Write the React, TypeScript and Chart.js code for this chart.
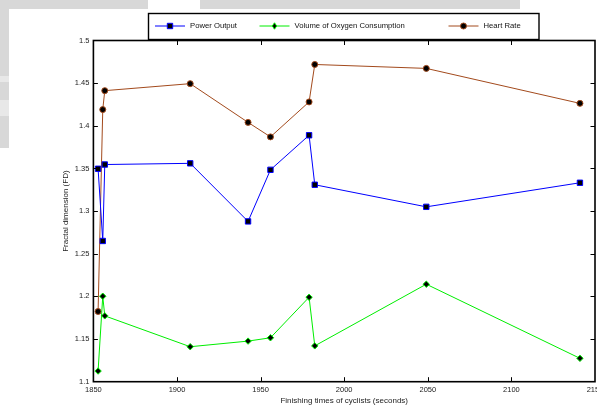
import React, { useEffect, useRef } from "react";
import { Chart, registerables } from "chart.js";

Chart.register(...registerables);

const finishTimes = [1852.8, 1855.6, 1856.8, 1907.9, 1942.5, 1955.9, 1979, 1982.4, 2049.1, 2141];
const powerOutput = [1.3496, 1.265, 1.3546, 1.356, 1.2879, 1.3484, 1.3889, 1.3309, 1.305, 1.3332];
const oxygenConsumption = [1.1125, 1.2002, 1.1772, 1.141, 1.1476, 1.1515, 1.199, 1.142, 1.2143, 1.1274];
const heartRate = [1.1823, 1.419, 1.4412, 1.4494, 1.404, 1.387, 1.428, 1.4719, 1.4673, 1.4263];

const seriesLabels = ["Power Output", "Volume of Oxygen Consumption", "Heart Rate"];
const seriesColors = ["#0000ff", "#00ee00", "#a34a1c"];
const xTickMin = 1850;
const xTickMax = 2150;
const xStep = 50;
const yTickMin = 1.1;
const yTickMax = 1.5;
const yStep = 0.05;

const FONT = "'Liberation Sans', Arial, sans-serif";

function drawMarker(ctx: CanvasRenderingContext2D, style: string, x: number, y: number, color: string) {
  ctx.save();
  ctx.fillStyle = "#000";
  ctx.strokeStyle = color;
  ctx.lineWidth = 1;
  ctx.beginPath();
  if (style === "rect") {
    ctx.rect(x - 2.7, y - 2.7, 5.4, 5.4);
  } else if (style === "rectRot") {
    ctx.moveTo(x, y - 3.2);
    ctx.lineTo(x + 2.2, y);
    ctx.lineTo(x, y + 3.2);
    ctx.lineTo(x - 2.2, y);
    ctx.closePath();
  } else {
    ctx.arc(x, y, 3, 0, Math.PI * 2);
  }
  ctx.fill();
  ctx.stroke();
  ctx.restore();
}

const framePlugin = {
  id: "matlabFrame",
  beforeDraw(chart: any) {
    const ctx = chart.ctx as CanvasRenderingContext2D;
    ctx.save();
    ctx.fillStyle = "#ffffff";
    ctx.fillRect(0, 0, chart.width, chart.height);
    ctx.fillStyle = "#d8d8d8";
    ctx.fillRect(0, 0, 148, 9);
    ctx.fillRect(200, 0, 320, 9);
    ctx.fillRect(0, 0, 9, 148);
    ctx.fillStyle = "#e8e8e8";
    ctx.fillRect(0, 76, 9, 6);
    ctx.fillRect(0, 100, 9, 16);
    ctx.restore();
  },
  afterDraw(chart: any) {
    const ctx = chart.ctx as CanvasRenderingContext2D;
    const { left, right, top, bottom } = chart.chartArea;
    const xs = chart.scales.x;
    const ys = chart.scales.y;
    ctx.save();
    ctx.strokeStyle = "#000";
    ctx.lineWidth = 1;
    const tl = 4.5;
    ctx.beginPath();
    xs.ticks.forEach((t: any) => {
      const px = Math.round(xs.getPixelForValue(t.value)) + 0.5;
      if (px <= left + 1 || px >= right - 1) return;
      ctx.moveTo(px, bottom);
      ctx.lineTo(px, bottom - tl);
      ctx.moveTo(px, top);
      ctx.lineTo(px, top + tl);
    });
    ys.ticks.forEach((t: any) => {
      const py = Math.round(ys.getPixelForValue(t.value)) + 0.5;
      if (py <= top + 1 || py >= bottom - 1) return;
      ctx.moveTo(left, py);
      ctx.lineTo(left + tl, py);
      ctx.moveTo(right, py);
      ctx.lineTo(right - tl, py);
    });
    ctx.stroke();
    ctx.lineWidth = 1.6;
    ctx.strokeRect(left, top, right - left, bottom - top);

    // legend box
    const lx = 148.5, ly = 13.5, lw = 390.5, lh = 26;
    ctx.fillStyle = "#fff";
    ctx.fillRect(lx, ly, lw, lh);
    ctx.lineWidth = 1.4;
    ctx.strokeRect(lx, ly, lw, lh);
    const cy = 26;
    const starts = [155, 259.5, 448.5];
    const styles = ["rect", "rectRot", "circle"];
    ctx.font = `7.7px ${FONT}`;
    ctx.textBaseline = "middle";
    ctx.textAlign = "left";
    chart.data.datasets.forEach((ds: any, i: number) => {
      const sx = starts[i];
      ctx.strokeStyle = ds.borderColor;
      ctx.lineWidth = 1;
      ctx.beginPath();
      ctx.moveTo(sx, cy);
      ctx.lineTo(sx + 30, cy);
      ctx.stroke();
      drawMarker(ctx, styles[i], sx + 15, cy, ds.borderColor);
      ctx.fillStyle = "#111";
      ctx.fillText(ds.label, sx + 35, cy);
    });
    ctx.restore();
  },
};

export default function App() {
  const canvasRef = useRef<HTMLCanvasElement | null>(null);

  useEffect(() => {
    if (!canvasRef.current) return;
    const mk = (vals: number[]) => finishTimes.map((x, i) => ({ x, y: vals[i] }));
    const pointStyles = ["rect", "rectRot", "circle"];
    const radii = [3.8, 3.2, 3];
    const seriesValues = [powerOutput, oxygenConsumption, heartRate];
    const chart = new Chart(canvasRef.current, {
      type: "line",
      data: {
        datasets: seriesValues.map((vals, i) => ({
          label: seriesLabels[i],
          data: mk(vals),
          borderColor: seriesColors[i],
          backgroundColor: "#000",
          borderWidth: 1,
          pointStyle: pointStyles[i] as any,
          pointRadius: radii[i],
          pointBorderColor: seriesColors[i],
          pointBackgroundColor: "#000",
          pointBorderWidth: 1,
          tension: 0,
          fill: false,
          clip: 6,
        })),
      },
      options: {
        animation: false,
        responsive: false,
        events: [],
        layout: { padding: { top: 40.5, right: 25, left: 0, bottom: 0 } },
        plugins: {
          legend: { display: false },
          tooltip: { enabled: false },
        },
        scales: {
          x: {
            type: "linear",
            min: xTickMin,
            max: xTickMax,
            afterFit: (s: any) => { s.height = 25.3; },
            afterBuildTicks: (s: any) => {
              const t = [];
              for (let v = xTickMin; v <= xTickMax + 0.001; v += xStep) t.push({ value: v });
              s.ticks = t;
            },
            grid: { display: false, drawTicks: false },
            border: { display: false },
            ticks: {
              font: { size: 7.5, family: FONT },
              color: "#222",
              padding: 4,
              maxRotation: 0,
              autoSkip: false,
              callback: (v: any) => String(Math.round(Number(v))),
            },
            title: {
              display: true,
              text: "Finishing times of cyclists (seconds)",
              font: { size: 8, family: FONT },
              color: "#222",
              padding: { top: 0, bottom: 1.2 },
            },
          },
          y: {
            type: "linear",
            min: yTickMin,
            max: yTickMax,
            afterFit: (s: any) => { s.width = 93.4; },
            afterBuildTicks: (s: any) => {
              const t = [];
              for (let k = 0; k <= Math.round((yTickMax - yTickMin) / yStep); k++) t.push({ value: +(yTickMin + k * yStep).toFixed(2) });
              s.ticks = t;
            },
            grid: { display: false, drawTicks: false },
            border: { display: false },
            ticks: {
              font: { size: 7.5, family: FONT },
              color: "#222",
              padding: 4,
              autoSkip: false,
              callback: (v: any) => String(Number(Number(v).toFixed(2))),
            },
            title: {
              display: true,
              text: "Fractal dimension (FD)",
              font: { size: 8, family: FONT },
              color: "#222",
              padding: { top: 61.2, bottom: 0 },
            },
          },
        },
      },
      plugins: [framePlugin],
    });
    return () => chart.destroy();
  }, []);

  return (
    <div style={{ position: "fixed", left: 0, top: 0, width: 597, height: 407, overflow: "hidden", background: "#fff" }}>
      <canvas ref={canvasRef} width={620} height={407} style={{ display: "block", width: 620, height: 407 }} />
    </div>
  );
}
